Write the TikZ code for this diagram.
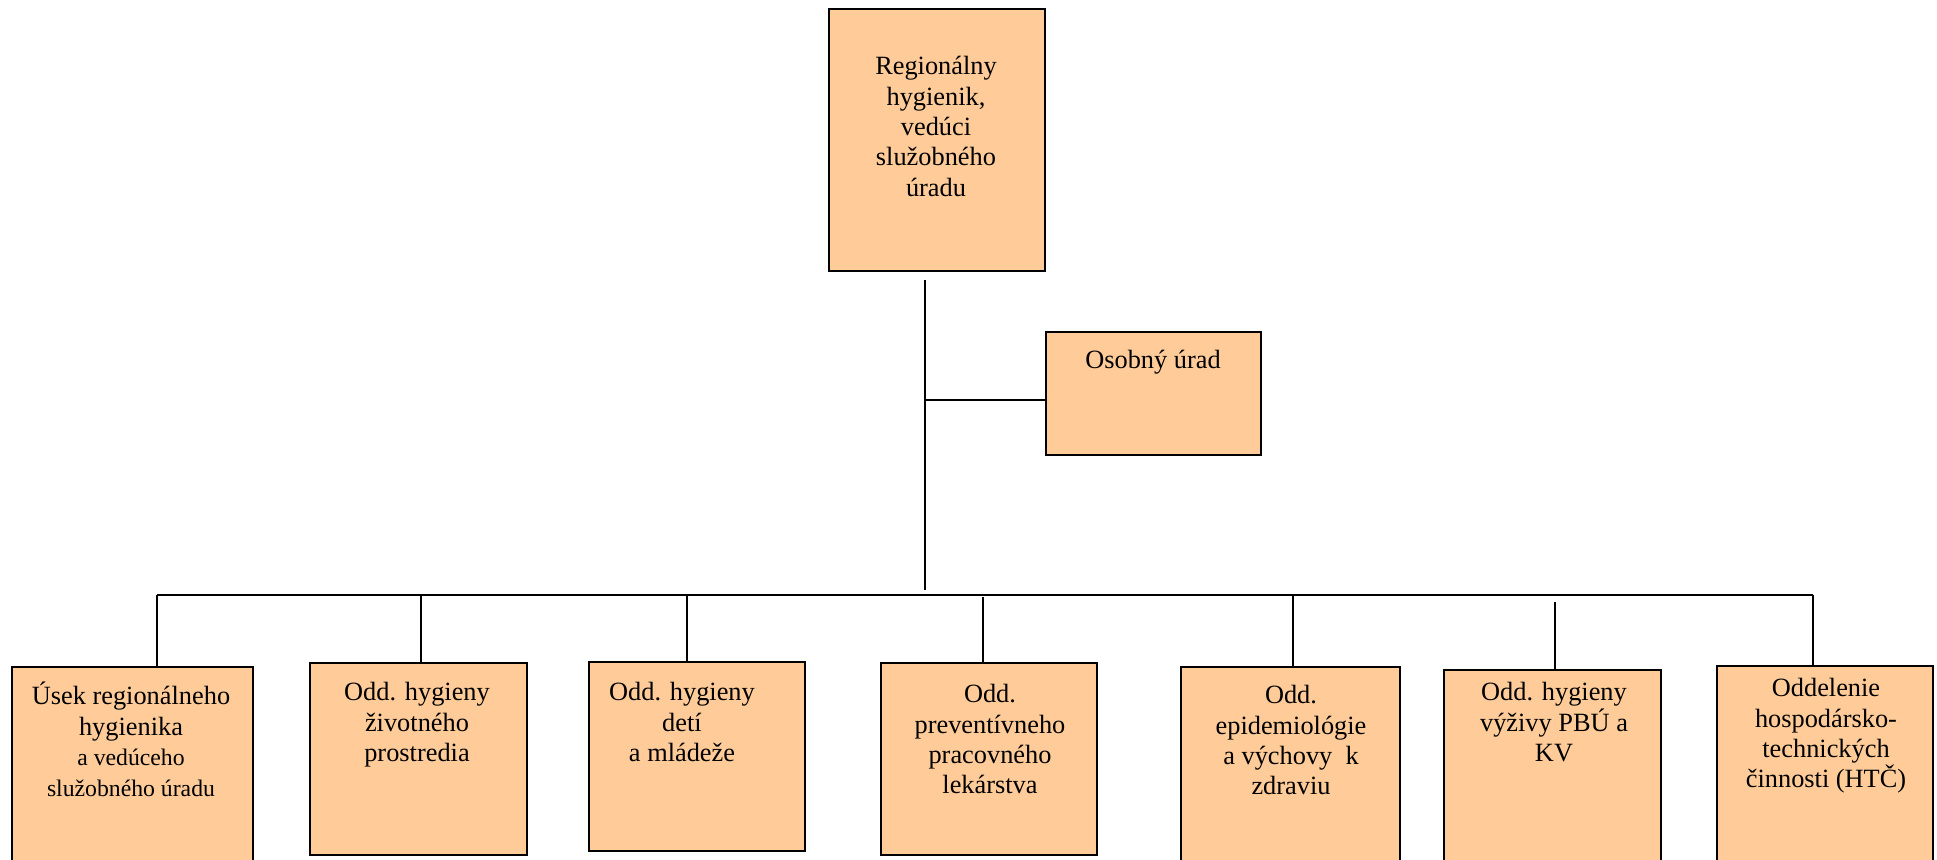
\documentclass[tikz,border=0pt]{standalone}
\usepackage{fontspec}
\setmainfont{Liberation Serif}
\definecolor{peach}{HTML}{FFCC99}
\begin{document}
\begin{tikzpicture}[x=0.02cm,y=-0.02cm,
  orgbox/.style={draw=black, fill=peach, line width=1.3pt, inner sep=0pt},
  conn/.style={draw=black, line width=0.8pt},
  txt/.style={align=center, inner sep=0pt, anchor=north, font=\fontsize{15}{17.3}\selectfont}]
\useasboundingbox (0,0) rectangle (1937,859);
\clip (0,0) rectangle (1937,859);

% boxes
\node[orgbox, minimum width=4.32cm, minimum height=5.24cm] (top) at (937,140) {};
\node[orgbox, minimum width=4.30cm, minimum height=2.46cm] (osob) at (1153.5,393.5) {};
\node[orgbox, minimum width=4.82cm, minimum height=4.26cm] (b1) at (132.5,773.5) {};
\node[orgbox, minimum width=4.34cm, minimum height=3.84cm] (b2) at (418.5,759) {};
\node[orgbox, minimum width=4.32cm, minimum height=3.78cm] (b3) at (697,756.5) {};
\node[orgbox, minimum width=4.32cm, minimum height=3.84cm] (b4) at (989,759) {};
\node[orgbox, minimum width=4.38cm, minimum height=4.26cm] (b5) at (1290.5,773.5) {};
\node[orgbox, minimum width=4.34cm, minimum height=4.20cm] (b6) at (1552.5,775) {};
\node[orgbox, minimum width=4.32cm, minimum height=4.28cm] (b7) at (1825,773) {};

% texts
\node[txt] (ttop) at (936,56) {Regionálny\\hygienik,\\vedúci\\služobného\\úradu};
\node[txt] (tosob) at (1153,350) {Osobný úrad};
\node[txt] (t1) at (131,682) {Úsek regionálneho\\hygienika\\{\fontsize{13.5}{15.5}\selectfont a vedúceho}\\{\fontsize{13.5}{15.5}\selectfont služobného úradu}};
\node[txt] (t2) at (417,682) {Odd. hygieny\\životného\\prostredia};
\node[txt] (t3) at (682,682) {Odd. hygieny\\detí\\a mládeže};
\node[txt] (t4) at (990,684) {Odd.\\preventívneho\\pracovného\\lekárstva};
\node[txt] (t5) at (1291,685) {Odd.\\epidemiológie\\a výchovy\ \ k\\zdraviu};
\node[txt] (t6) at (1554,682) {Odd. hygieny\\výživy PBÚ a\\KV};
\node[txt] (t7) at (1826,678) {Oddelenie\\hospodársko-\\technických\\činnosti (HTČ)};

% connectors
\coordinate (trunkTop) at (925,280);
\coordinate (trunkBot) at (925,590);
\coordinate (jOsob) at (925,400);
\coordinate (busL) at (157,595);
\coordinate (busR) at (1813,595);
\draw[conn] (trunkTop) -- (trunkBot);
\draw[conn] (jOsob) -- (jOsob -| osob.west);
\draw[conn] (busL) -- (busR);
\coordinate (d1) at (157,595);
\coordinate (d2) at (421,595);
\coordinate (d3) at (687,595);
\coordinate (d4) at (983,597);
\coordinate (d5) at (1293,595);
\coordinate (d6) at (1555,602);
\coordinate (d7) at (1813,595);
\draw[conn] (d1) -- (d1 |- b1.north);
\draw[conn] (d2) -- (d2 |- b2.north);
\draw[conn] (d3) -- (d3 |- b3.north);
\draw[conn] (d4) -- (d4 |- b4.north);
\draw[conn] (d5) -- (d5 |- b5.north);
\draw[conn] (d6) -- (d6 |- b6.north);
\draw[conn] (d7) -- (d7 |- b7.north);
\end{tikzpicture}
\end{document}
